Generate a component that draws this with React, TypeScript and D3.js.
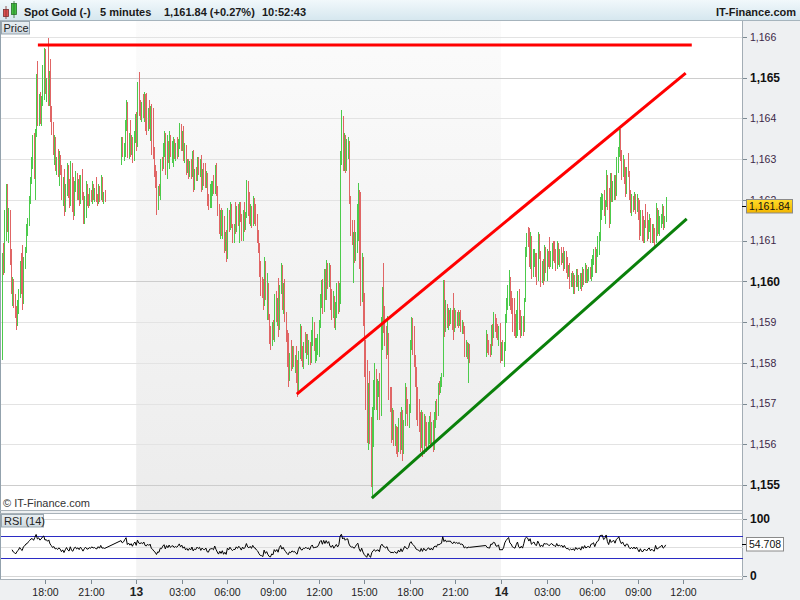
import React, { useMemo } from "react";
import * as d3 from "d3";

// ---- data: 5-minute Spot Gold bars, three trading sessions ----
const sessionStarts = ["2014-11-12T15:10:00", "2014-11-12T23:00:00", "2014-11-13T23:00:00"];
const sessionOpens = [1158.2, 1162.95, 1158.4];

const closeA = [1160.55,1160.25,1161.60,1162.25,1161.30,1161.70,1160.55,1159.80,1160.00,1159.45,
1159.20,1158.95,1159.45,1159.70,1160.40,1159.85,1159.50,1160.50,1160.75,1161.30,
1161.45,1162.00,1162.45,1162.95,1163.00,1162.70,1163.65,1164.90,1164.00,1164.45,
1163.95,1164.40,1165.15,1165.60,1164.75,1164.90,1164.55,1165.00,1164.10,1163.70,
1163.20,1163.45,1162.85,1162.95,1162.70,1163.05,1162.75,1162.10,1162.45,1161.75,
1162.30,1162.80,1162.20,1161.90,1162.85,1161.90,1161.65,1162.35,1162.60,1162.15,
1162.40,1161.95,1162.50,1162.10,1161.50,1162.00,1162.35,1161.95,1161.90,1162.20,
1162.05,1162.35,1162.10,1162.20,1162.00,1161.95,1162.30,1162.05,1162.50,1162.05,
1162.10,1162.00];
const highA = [1160.70,1160.95,1161.75,1162.40,1162.40,1161.80,1161.75,1160.80,1160.10,1160.05,
1159.70,1159.40,1159.55,1159.80,1160.50,1160.70,1160.90,1160.60,1160.85,1161.40,
1161.55,1162.10,1162.55,1163.05,1163.60,1163.65,1163.75,1165.10,1165.40,1164.60,
1164.65,1164.55,1165.30,1165.72,1165.70,1165.00,1165.97,1165.15,1165.45,1164.30,
1163.90,1163.60,1163.55,1163.05,1163.25,1163.20,1163.10,1162.85,1162.55,1162.75,
1162.40,1162.90,1162.85,1162.50,1162.95,1162.90,1162.55,1162.45,1162.70,1162.65,
1162.50,1162.60,1162.60,1162.75,1162.20,1162.10,1162.45,1162.40,1162.15,1162.30,
1162.25,1162.45,1162.40,1162.30,1162.55,1162.15,1162.40,1162.35,1162.60,1162.55,
1162.20,1162.25];
const lowA = [1158.07,1160.15,1160.20,1161.00,1161.20,1160.95,1160.40,1159.70,1159.40,1159.35,
1159.10,1158.80,1158.90,1159.20,1159.60,1159.70,1159.30,1159.45,1160.30,1160.70,
1161.10,1161.35,1161.90,1162.40,1162.75,1162.50,1162.00,1163.55,1163.80,1163.80,
1163.85,1163.80,1164.30,1164.45,1164.60,1164.40,1164.30,1164.30,1163.90,1163.60,
1163.10,1162.85,1162.70,1162.60,1162.55,1162.35,1162.60,1162.00,1161.85,1161.60,
1161.70,1162.10,1162.05,1161.80,1161.85,1161.70,1161.50,1161.60,1162.20,1162.00,
1162.00,1161.85,1161.90,1162.00,1161.40,1161.40,1161.55,1161.85,1161.80,1161.85,
1161.95,1161.90,1162.00,1161.95,1161.95,1161.85,1161.90,1161.95,1162.00,1161.95,
1161.90,1161.95];

const closeB = [1163.45,1163.10,1163.30,1163.85,1164.35,1163.20,1163.55,1163.15,1163.50,1163.00,
1163.60,1164.00,1163.35,1164.80,1164.20,1164.05,1164.30,1164.10,1164.55,1163.85,
1163.75,1164.15,1163.90,1164.20,1163.30,1163.10,1162.65,1162.40,1161.80,1162.25,
1162.15,1162.90,1162.80,1163.30,1163.60,1162.75,1163.45,1163.00,1163.60,1163.10,
1163.35,1163.45,1163.10,1163.30,1163.15,1163.40,1163.80,1163.30,1163.60,1163.05,
1163.30,1162.70,1162.95,1162.55,1162.90,1162.60,1163.10,1162.30,1162.65,1162.50,
1162.95,1162.70,1162.90,1162.30,1162.70,1162.45,1162.40,1162.65,1161.95,1161.85,
1162.30,1162.35,1162.40,1162.20,1162.75,1162.20,1161.70,1161.25,1161.65,1161.20,
1161.60,1160.80,1161.10,1160.60,1161.70,1161.30,1161.85,1161.40,1161.05,1161.30,
1161.25,1161.75,1161.45,1161.85,1161.55,1161.10,1161.65,1161.30,1161.60,1162.35,
1161.70,1161.50,1161.80,1161.40,1162.00,1161.55,1161.45,1161.05,1160.80,1160.20,
1159.75,1159.70,1159.45,1160.45,1159.65,1159.95,1159.15,1158.55,1158.40,1158.90,
1158.65,1159.60,1159.10,1159.50,1158.80,1159.80,1160.35,1159.40,1159.85,1159.10,
1158.60,1158.00,1157.55,1158.15,1157.90,1158.30,1158.00,1158.10,1157.60,1157.30,
1158.20,1158.85,1158.15,1158.00,1158.40,1158.35,1158.60,1158.30,1158.45,1158.05,
1158.70,1159.00,1158.40,1158.50,1158.55,1158.60,1158.95,1159.60,1159.90,1159.30,
1160.20,1159.65,1160.40,1159.90,1160.35,1159.40,1159.15,1159.65,1158.95,1159.40,
1159.85,1159.30,1159.85,1163.00,1164.05,1162.85,1163.50,1162.80,1163.40,1163.45,
1162.00,1161.25,1161.00,1161.05,1160.60,1161.10,1161.80,1162.20,1160.50,1159.55,
1160.55,1159.00,1157.80,1157.00,1156.20,1157.35,1156.10,1155.10,1156.70,1157.40,
1157.85,1157.00,1157.45,1157.50,1156.75,1158.95,1159.70,1158.90,1158.55,1158.25,
1158.70,1157.25,1156.90,1156.15,1156.30,1156.05,1156.40,1155.85,1155.80,1156.55,
1155.90,1156.80,1155.75,1156.50,1157.40,1156.85,1156.55,1156.90,1158.45,1159.00,
1158.30,1158.00,1157.50,1156.75,1156.55,1156.40,1155.95,1156.75,1155.80,1156.65,
1156.05,1155.90,1156.45,1156.60,1156.00,1156.45,1155.90,1156.70,1156.95,1156.70,
1157.40,1157.30,1157.55,1157.70,1159.90,1158.80,1159.45,1158.95,1159.25,1159.20,
1159.30,1158.90,1158.75,1159.25,1158.95,1159.15,1158.95,1159.20,1158.85,1158.95,
1158.80,1158.25,1158.45,1158.20,1158.40,1158.35];
const highB = [1163.55,1163.55,1163.40,1163.95,1164.45,1164.40,1163.65,1163.95,1163.60,1163.55,
1163.70,1164.10,1164.15,1164.90,1165.13,1164.45,1164.40,1164.60,1164.65,1164.60,
1164.62,1164.25,1164.45,1164.30,1164.35,1164.25,1163.30,1162.85,1162.70,1162.35,
1162.40,1163.00,1163.05,1163.40,1163.70,1163.65,1163.60,1163.45,1163.70,1163.55,
1163.45,1163.55,1163.50,1163.40,1163.55,1163.50,1163.88,1163.85,1163.70,1163.80,
1163.40,1163.35,1163.00,1163.00,1162.95,1163.00,1163.20,1163.22,1162.75,1162.80,
1163.05,1163.05,1163.00,1163.10,1162.75,1162.90,1162.90,1162.70,1162.45,1162.15,
1162.40,1162.45,1162.45,1162.60,1162.85,1162.90,1162.35,1161.90,1161.75,1161.80,
1161.75,1161.60,1161.20,1161.26,1161.80,1161.75,1161.95,1161.90,1161.40,1161.40,
1161.95,1161.85,1161.90,1161.95,1161.95,1161.65,1161.75,1161.95,1161.70,1162.48,
1162.45,1162.20,1161.90,1161.85,1162.10,1162.05,1161.90,1161.65,1161.25,1160.94,
1160.50,1160.10,1160.05,1160.60,1160.50,1160.20,1159.90,1159.20,1158.90,1159.00,
1159.05,1159.70,1159.75,1159.60,1160.08,1159.90,1160.45,1160.40,1159.95,1160.05,
1159.25,1158.80,1158.73,1158.25,1158.55,1158.40,1158.40,1158.20,1158.40,1158.07,
1158.30,1158.95,1158.90,1158.40,1158.50,1158.75,1158.70,1158.70,1158.55,1158.50,
1158.80,1159.12,1158.95,1158.60,1158.60,1158.70,1159.05,1159.70,1160.03,1160.05,
1160.30,1160.30,1160.52,1160.45,1160.45,1160.40,1159.80,1159.75,1159.40,1159.50,
1159.95,1160.00,1159.95,1163.20,1164.20,1164.05,1163.65,1163.60,1163.50,1163.55,
1163.45,1162.10,1161.50,1161.20,1161.50,1161.20,1161.90,1162.41,1162.25,1162.20,
1160.70,1160.60,1159.71,1158.56,1158.07,1157.50,1157.80,1156.67,1156.91,1157.58,
1157.99,1157.85,1157.60,1157.55,1157.75,1159.12,1159.86,1160.45,1159.40,1158.90,
1159.15,1158.73,1157.40,1157.40,1156.90,1156.85,1156.50,1156.45,1156.42,1156.65,
1156.80,1156.91,1156.85,1156.60,1157.50,1157.40,1157.10,1157.00,1158.56,1159.12,
1159.10,1158.90,1158.20,1157.90,1157.40,1157.10,1156.80,1156.85,1156.80,1156.75,
1156.70,1156.55,1156.55,1156.70,1156.80,1156.55,1156.60,1156.80,1157.05,1157.10,
1157.50,1157.55,1157.65,1157.75,1160.03,1160.03,1159.55,1159.40,1159.35,1159.30,
1159.35,1159.30,1159.71,1159.35,1159.30,1159.25,1159.30,1159.25,1159.30,1159.05,
1159.00,1158.90,1158.55,1158.50,1158.48,1158.45];
const lowB = [1162.85,1163.05,1162.95,1163.05,1163.70,1163.02,1163.00,1163.05,1163.10,1162.90,
1162.95,1163.40,1163.20,1163.30,1164.05,1163.95,1163.90,1164.00,1163.90,1163.70,
1163.60,1163.70,1163.75,1163.45,1163.10,1163.00,1162.55,1162.30,1161.62,1161.75,
1162.10,1162.00,1162.70,1162.75,1163.05,1162.60,1162.50,1162.90,1162.75,1163.05,
1162.90,1162.80,1163.00,1162.95,1163.00,1163.05,1163.25,1163.20,1163.20,1162.95,
1162.90,1162.60,1162.65,1162.50,1162.60,1162.50,1162.55,1162.20,1162.25,1162.45,
1162.45,1162.60,1162.55,1162.20,1162.25,1162.35,1162.30,1162.30,1161.85,1161.75,
1161.80,1161.80,1162.10,1162.15,1162.15,1162.10,1161.60,1161.15,1161.05,1161.10,
1161.05,1160.70,1160.75,1160.47,1160.55,1161.20,1161.25,1161.30,1160.95,1160.95,
1161.15,1161.20,1161.35,1160.95,1161.45,1161.00,1161.00,1161.20,1161.25,1161.55,
1161.60,1161.40,1161.35,1161.30,1161.35,1161.40,1161.35,1160.95,1160.70,1160.10,
1159.65,1159.60,1159.30,1159.40,1159.55,1159.05,1159.05,1158.45,1158.31,1158.40,
1158.55,1158.50,1159.00,1158.90,1158.63,1158.80,1159.70,1159.30,1159.20,1159.00,
1158.50,1157.90,1157.40,1157.55,1157.80,1157.85,1157.90,1157.75,1157.50,1157.16,
1157.30,1158.10,1158.05,1157.90,1157.85,1158.25,1158.10,1158.20,1157.95,1157.95,
1158.00,1158.40,1158.30,1158.00,1158.05,1158.20,1158.15,1158.85,1159.35,1159.20,
1159.25,1159.55,1159.55,1159.80,1159.85,1159.30,1159.05,1159.10,1158.85,1158.80,
1159.10,1159.20,1159.25,1159.45,1162.85,1162.70,1162.70,1162.65,1162.70,1163.00,
1161.90,1161.10,1160.90,1159.95,1160.45,1160.50,1160.70,1161.00,1160.30,1159.40,
1159.50,1158.90,1157.65,1156.84,1156.03,1155.86,1156.00,1154.95,1154.68,1155.93,
1156.84,1156.84,1156.60,1157.15,1156.60,1156.70,1158.31,1158.73,1158.40,1158.10,
1158.20,1157.09,1156.80,1156.03,1156.10,1155.95,1155.95,1155.75,1155.68,1155.85,
1155.75,1155.85,1155.60,1155.75,1156.45,1156.75,1156.45,1156.40,1156.76,1158.31,
1158.20,1157.90,1157.40,1156.59,1156.45,1156.30,1155.80,1155.90,1155.68,1155.75,
1155.95,1155.80,1155.95,1156.00,1155.90,1155.95,1155.80,1155.85,1156.40,1156.60,
1156.84,1157.20,1157.25,1157.40,1157.65,1158.63,1158.75,1158.85,1158.80,1158.90,
1158.95,1158.80,1158.56,1158.75,1158.85,1158.90,1158.85,1158.90,1158.75,1158.70,
1158.70,1158.14,1158.15,1158.10,1157.50,1158.00];

const closeC = [1158.65,1158.35,1158.30,1158.25,1158.85,1158.80,1159.15,1159.10,1158.70,1158.65,
1158.85,1158.15,1158.20,1158.15,1158.40,1159.10,1159.50,1159.80,1160.10,1159.45,
1159.30,1158.90,1158.80,1158.70,1159.20,1159.65,1158.95,1158.75,1159.05,1158.75,
1159.50,1160.70,1161.05,1160.95,1160.50,1161.10,1160.15,1160.45,1160.70,1160.20,
1160.05,1161.10,1160.65,1160.00,1160.40,1160.05,1160.80,1160.70,1160.75,1160.65,
1160.40,1160.70,1160.85,1160.60,1160.55,1160.35,1160.90,1160.50,1160.70,1160.50,
1160.65,1160.35,1160.65,1160.30,1160.15,1160.20,1159.95,1160.10,1159.95,1160.10,
1159.85,1160.20,1159.95,1160.05,1160.10,1159.85,1160.25,1160.00,1160.35,1160.05,
1160.20,1160.25,1160.10,1160.50,1160.55,1160.70,1160.30,1160.70,1161.00,1161.10,
1161.95,1162.05,1162.10,1161.70,1161.90,1162.60,1161.85,1161.45,1162.50,1162.05,
1162.35,1162.50,1162.10,1162.95,1163.20,1163.70,1163.05,1162.60,1163.00,1162.50,
1162.20,1162.70,1162.65,1162.10,1161.80,1162.05,1161.80,1162.10,1161.75,1162.05,
1161.60,1161.15,1161.65,1161.10,1161.05,1161.40,1161.35,1161.10,1161.40,1161.55,
1161.05,1161.30,1161.05,1160.95,1161.80,1161.20,1161.25,1161.50,1161.55,1161.80,
1161.35,1161.50,1161.84];
const highC = [1158.80,1158.70,1158.55,1158.45,1158.93,1158.95,1159.24,1159.20,1159.10,1158.95,
1158.90,1158.97,1158.50,1158.55,1158.50,1159.20,1159.60,1159.90,1160.27,1160.10,
1159.75,1159.60,1159.60,1159.20,1159.30,1159.75,1159.80,1159.30,1159.15,1159.15,
1159.60,1160.84,1161.18,1161.33,1161.30,1161.20,1161.10,1160.80,1160.80,1160.70,
1160.70,1161.20,1161.15,1160.75,1160.50,1160.55,1160.90,1160.85,1160.80,1160.75,
1161.08,1160.75,1160.95,1161.00,1161.00,1160.80,1161.00,1160.95,1160.80,1160.85,
1160.70,1160.85,1160.75,1160.75,1160.60,1160.40,1160.45,1160.20,1160.25,1160.20,
1160.15,1160.30,1160.30,1160.15,1160.20,1160.20,1160.35,1160.30,1160.45,1160.40,
1160.30,1160.35,1160.35,1160.55,1160.65,1160.80,1160.85,1160.80,1161.10,1161.20,
1162.07,1162.17,1162.15,1162.24,1162.00,1162.73,1162.50,1162.30,1162.65,1162.65,
1162.45,1162.60,1162.60,1163.05,1163.30,1163.80,1163.75,1163.22,1163.10,1163.00,
1162.80,1162.80,1163.15,1162.70,1162.25,1162.15,1162.10,1162.20,1162.15,1162.15,
1162.05,1161.99,1161.75,1161.75,1161.60,1161.50,1161.90,1161.70,1161.50,1161.65,
1161.55,1161.40,1161.40,1161.30,1161.92,1161.80,1161.75,1161.60,1161.65,1161.90,
1161.85,1161.60,1162.07];
const lowC = [1158.14,1158.25,1158.20,1158.15,1158.20,1158.40,1158.60,1158.75,1158.60,1158.55,
1158.40,1158.00,1158.05,1158.05,1157.90,1158.30,1158.97,1159.30,1159.40,1159.30,
1159.20,1158.75,1158.65,1158.62,1158.60,1158.65,1158.80,1158.62,1158.65,1158.65,
1158.75,1159.50,1160.60,1160.84,1160.35,1160.30,1160.05,1160.10,1160.35,1160.10,
1159.90,1160.00,1160.55,1159.85,1159.95,1159.90,1160.00,1160.20,1160.00,1160.35,
1160.30,1160.35,1160.30,1160.50,1160.45,1160.25,1160.30,1160.40,1160.35,1160.40,
1160.45,1160.25,1160.30,1160.20,1160.05,1160.10,1159.80,1159.85,1159.85,1159.70,
1159.70,1159.85,1159.85,1159.75,1159.80,1159.75,1159.85,1159.90,1159.95,1159.95,
1159.95,1160.00,1160.05,1160.00,1160.10,1160.40,1160.20,1160.20,1160.60,1160.65,
1161.00,1161.50,1161.75,1161.60,1161.40,1161.82,1161.75,1161.30,1161.40,1161.95,
1161.95,1162.00,1162.00,1162.10,1162.65,1163.05,1162.95,1162.48,1162.55,1162.40,
1162.07,1162.15,1162.55,1161.99,1161.67,1161.60,1161.70,1161.75,1161.65,1161.70,
1161.50,1161.01,1161.10,1161.00,1160.94,1160.95,1161.30,1161.00,1161.05,1161.20,
1160.94,1160.95,1160.95,1160.84,1160.95,1161.10,1161.15,1161.10,1161.30,1161.40,
1161.25,1161.30,1161.45];

const priceTicks = [1155, 1156, 1157, 1158, 1159, 1160, 1161, 1162, 1163, 1164, 1165, 1166];
const xTickTimes = ["2014-11-12T18:00:00","2014-11-12T21:00:00","2014-11-13T00:00:00","2014-11-13T03:00:00",
"2014-11-13T06:00:00","2014-11-13T09:00:00","2014-11-13T12:00:00","2014-11-13T15:00:00","2014-11-13T18:00:00",
"2014-11-13T21:00:00","2014-11-14T00:00:00","2014-11-14T03:00:00","2014-11-14T06:00:00","2014-11-14T09:00:00",
"2014-11-14T12:00:00"];
const xTickLabels = ["18:00","21:00","13","03:00","06:00","09:00","12:00","15:00","18:00","21:00","14","03:00","06:00","09:00","12:00"];
const rsiLevels = [30, 70];
const lastPriceText = "1,161.84";
const lastPrice = 1161.84;
const lastRsi = 54.708;

// drawn trend lines (time, price)
const topLineTimes = ["2014-11-12T17:32:00", "2014-11-14T12:33:00"];
const topLinePrices = [1165.8, 1165.8];
const channelTopTimes = ["2014-11-13T10:34:00", "2014-11-14T12:09:00"];
const channelTopPrices = [1157.23, 1165.11];
const channelBotTimes = ["2014-11-13T15:30:00", "2014-11-14T12:13:00"];
const channelBotPrices = [1154.68, 1161.53];

const FONT = "'Liberation Sans', Arial, sans-serif";
const GREEN = "#4ccb4c";
const RED = "#e06565";
const AXIS_BG = "#eef0f2";

type Bar = { t: Date; o: number; h: number; l: number; c: number };

export default function App() {
  const sessions = [
    { close: closeA, high: highA, low: lowA },
    { close: closeB, high: highB, low: lowB },
    { close: closeC, high: highC, low: lowC },
  ];

  const bars: Bar[] = useMemo(() => {
    const out: Bar[] = [];
    sessions.forEach((s, si) => {
      const t0 = new Date(sessionStarts[si]).getTime();
      let open = sessionOpens[si];
      s.close.forEach((c, i) => {
        out.push({ t: new Date(t0 + i * 300000), o: open, h: s.high[i], l: s.low[i], c });
        open = c;
      });
    });
    return out;
  }, []);

  const rsi = useMemo(() => {
    const n = 14;
    const out: { t: Date; v: number }[] = [];
    let ag = 0, al = 0;
    for (let i = 1; i < bars.length; i++) {
      const d = bars[i].c - bars[i - 1].c;
      const g = Math.max(d, 0), l = Math.max(-d, 0);
      if (i <= n) { ag = (ag * (i - 1) + g) / i; al = (al * (i - 1) + l) / i; }
      else { ag = (ag * (n - 1) + g) / n; al = (al * (n - 1) + l) / n; }
      const v = al === 0 ? 100 : 100 - 100 / (1 + ag / al);
      if (i >= 8) out.push({ t: bars[i].t, v });
    }
    return out;
  }, [bars]);

  const xs = d3.scaleTime()
    .domain([new Date("2014-11-12T15:06:00"), new Date("2014-11-14T15:54:00")])
    .range([0.9, 742.7]);
  const ys = d3.scaleLinear().domain([1155, 1166]).range([485, 36.86]);
  const rs = d3.scaleLinear().domain([0, 100]).range([575.5, 518.5]);

  const rsiLine = d3.line<{ t: Date; v: number }>().x(d => xs(d.t)).y(d => rs(d.v))(rsi) || "";
  const rsiFill = d3.area<{ t: Date; v: number }>()
    .x(d => xs(d.t)).y0(rs(70)).y1(d => rs(Math.max(70, d.v)))(rsi) || "";

  const day13x0 = xs(new Date("2014-11-13T00:00:00"));
  const day13x1 = xs(new Date("2014-11-14T00:00:00"));

  const seg = (times: string[], prices: number[]) => ({
    x1: xs(new Date(times[0])), y1: ys(prices[0]), x2: xs(new Date(times[1])), y2: ys(prices[1]),
  });
  const topL = seg(topLineTimes, topLinePrices);
  const chTop = seg(channelTopTimes, channelTopPrices);
  const chBot = seg(channelBotTimes, channelBotPrices);

  return (
    <svg width={800} height={600} style={{ position: "absolute", left: 0, top: 0, fontFamily: FONT }}>
      <defs>
        <linearGradient id="hdr" x1="0" y1="0" x2="0" y2="1">
          <stop offset="0" stopColor="#f1f8fb" />
          <stop offset="1" stopColor="#d6e7ef" />
        </linearGradient>
        <linearGradient id="shade" x1="0" y1="0" x2="0" y2="1">
          <stop offset="0" stopColor="#fbfbfb" />
          <stop offset="1" stopColor="#ececec" />
        </linearGradient>
        <linearGradient id="lbl" x1="0" y1="0" x2="0" y2="1">
          <stop offset="0" stopColor="#e9eff3" />
          <stop offset="1" stopColor="#cfd9e0" />
        </linearGradient>
        <linearGradient id="gold" x1="0" y1="0" x2="0" y2="1">
          <stop offset="0" stopColor="#ffdc2a" />
          <stop offset="1" stopColor="#f2b500" />
        </linearGradient>
        <clipPath id="pclip"><rect x={1} y={21} width={742} height={489} /></clipPath>
        <clipPath id="rclip"><rect x={1} y={514} width={742} height={65} /></clipPath>
      </defs>

      <rect x={0} y={0} width={800} height={600} fill="#ffffff" />
      {/* axis backgrounds */}
      <rect x={743} y={20} width={57} height={580} fill={AXIS_BG} />
      <rect x={0} y={580} width={800} height={20} fill={AXIS_BG} />
      <rect x={0} y={510} width={743} height={3} fill={AXIS_BG} />

      {/* header */}
      <rect x={0} y={0} width={800} height={20} fill="url(#hdr)" />
      <line x1={0} y1={20.5} x2={800} y2={20.5} stroke="#a6b4bd" />
      <rect x={3.5} y={9.5} width={5} height={7} fill="#e05050" stroke="#7a3030" strokeWidth={0.8} />
      <line x1={6} y1={6} x2={6} y2={19} stroke="#7a3030" strokeWidth={0.8} />
      <rect x={11.5} y={3.5} width={5} height={11} fill="#40c040" stroke="#2a702a" strokeWidth={0.8} />
      <line x1={14} y1={1} x2={14} y2={18} stroke="#2a702a" strokeWidth={0.8} />
      <g fontSize={11} fontWeight="bold" fill="#1a1a1a">
        <text x={24} y={15.5}>Spot Gold (-)</text>
        <text x={100} y={15.5}>5 minutes</text>
        <text x={164} y={15.5}>1,161.84 (+0.27%)</text>
        <text x={262} y={15.5}>10:52:43</text>
        <text x={796} y={15.5} textAnchor="end">IT-Finance.com</text>
      </g>

      {/* day shading */}
      <rect x={day13x0} y={21} width={day13x1 - day13x0} height={489} fill="url(#shade)" />
      <rect x={day13x0} y={514} width={day13x1 - day13x0} height={65} fill="#f4f4f4" />

      {/* price grid */}
      {priceTicks.map(p => (
        <line key={p} x1={1} x2={743} y1={Math.round(ys(p)) + 0.5} y2={Math.round(ys(p)) + 0.5}
          stroke={p % 5 === 0 ? "#cdcdcd" : "#e3e3e3"} />
      ))}

      {/* candles */}
      <g clipPath="url(#pclip)">
        {bars.map((b, i) => {
          const top = Math.round(ys(Math.max(b.h, b.o, b.c)));
          const bot = Math.round(ys(Math.min(b.l, b.o, b.c)));
          return (
            <rect key={i} x={Math.round(xs(b.t))} y={top} width={1} height={Math.max(1, bot - top)}
              fill={b.c >= b.o ? GREEN : RED} />
          );
        })}
        <line {...topL} stroke="#ff0000" strokeWidth={3} />
        <line {...chTop} stroke="#ff0000" strokeWidth={3} />
        <line {...chBot} stroke="#0a800a" strokeWidth={3} />
      </g>

      {/* panel borders */}
      <line x1={0.5} y1={21} x2={0.5} y2={580} stroke="#93a2ad" />
      <line x1={742.5} y1={21} x2={742.5} y2={580} stroke="#a3adb5" />
      <line x1={0} y1={510.5} x2={743} y2={510.5} stroke="#a9b2b9" />
      <line x1={0} y1={513.5} x2={743} y2={513.5} stroke="#a9b2b9" />
      <line x1={0} y1={579.5} x2={743} y2={579.5} stroke="#a9b2b9" />

      {/* price label */}
      <rect x={1.5} y={21.5} width={28} height={12.5} fill="url(#lbl)" stroke="#9aa7b0" />
      <text x={3.5} y={31.5} fontSize={11} fill="#222">Price</text>
      <text x={3} y={507} fontSize={11} fill="#333">© IT-Finance.com</text>

      {/* price axis */}
      {priceTicks.map(p => {
        const y = ys(p);
        const major = p % 5 === 0;
        return (
          <g key={p}>
            <line x1={743} x2={747} y1={Math.round(y) + 0.5} y2={Math.round(y) + 0.5} stroke="#7d8a93" />
            <text x={750} y={y} dy="0.36em" fontSize={major ? 12 : 10.5} fontWeight={major ? "bold" : "normal"}
              fill={major ? "#111" : "#3b2747"}>{d3.format(",")(p)}</text>
          </g>
        );
      })}
      <line x1={742} x2={747} y1={Math.round(ys(lastPrice)) + 0.5} y2={Math.round(ys(lastPrice)) + 0.5} stroke="#000" />
      <rect x={746.5} y={Math.round(ys(lastPrice)) - 6.5} width={46} height={13.5} fill="url(#gold)" stroke="#8a8a8a" />
      <text x={749} y={ys(lastPrice)} dy="0.36em" fontSize={10.5} fill="#111">{lastPriceText}</text>

      {/* RSI panel */}
      <line x1={1} x2={743} y1={Math.round(rs(100)) + 0.5} y2={Math.round(rs(100)) + 0.5} stroke="#d6d6d6" />
      <line x1={1} x2={743} y1={Math.round(rs(0)) + 0.5} y2={Math.round(rs(0)) + 0.5} stroke="#d6d6d6" />
      <line x1={1} x2={743} y1={Math.round(rs(50)) + 0.5} y2={Math.round(rs(50)) + 0.5} stroke="#dedede" />
      {rsiLevels.map(l => (
        <line key={l} x1={1} x2={743} y1={Math.round(rs(l)) + 0.5} y2={Math.round(rs(l)) + 0.5} stroke="#2b2bc4" />
      ))}
      <g clipPath="url(#rclip)">
        <path d={rsiFill} fill="#c7a2a6" />
        <path d={rsiLine} fill="none" stroke="#000" strokeWidth={1} />
      </g>
      <rect x={1.5} y={514.5} width={42} height={12.5} fill="url(#lbl)" stroke="#9aa7b0" />
      <text x={4} y={524.5} fontSize={11} fill="#222">RSI (14)</text>

      {/* RSI axis */}
      {[100, 0].map(v => (
        <g key={v}>
          <line x1={743} x2={747} y1={Math.round(rs(v)) + 0.5} y2={Math.round(rs(v)) + 0.5} stroke="#7d8a93" />
          <text x={750} y={rs(v)} dy="0.36em" fontSize={12} fontWeight="bold" fill="#111">{v}</text>
        </g>
      ))}
      <line x1={742} x2={747} y1={Math.round(rs(lastRsi)) + 0.5} y2={Math.round(rs(lastRsi)) + 0.5} stroke="#000" />
      <rect x={746.5} y={Math.round(rs(lastRsi)) - 6.5} width={37} height={13.5} fill="#fff" stroke="#8a8a8a" />
      <text x={749} y={rs(lastRsi)} dy="0.36em" fontSize={10.5} fill="#111">{d3.format(".3f")(lastRsi)}</text>

      {/* time axis */}
      {xTickTimes.map((t, i) => {
        const x = Math.round(xs(new Date(t))) + 0.5;
        const isDay = !xTickLabels[i].includes(":");
        return (
          <g key={t}>
            <line x1={x} x2={x} y1={580} y2={584} stroke="#7d8a93" />
            <text x={x} y={595.5} textAnchor="middle" fontSize={isDay ? 12 : 10.5}
              fontWeight={isDay ? "bold" : "normal"} fill="#222">{xTickLabels[i]}</text>
          </g>
        );
      })}
    </svg>
  );
}
